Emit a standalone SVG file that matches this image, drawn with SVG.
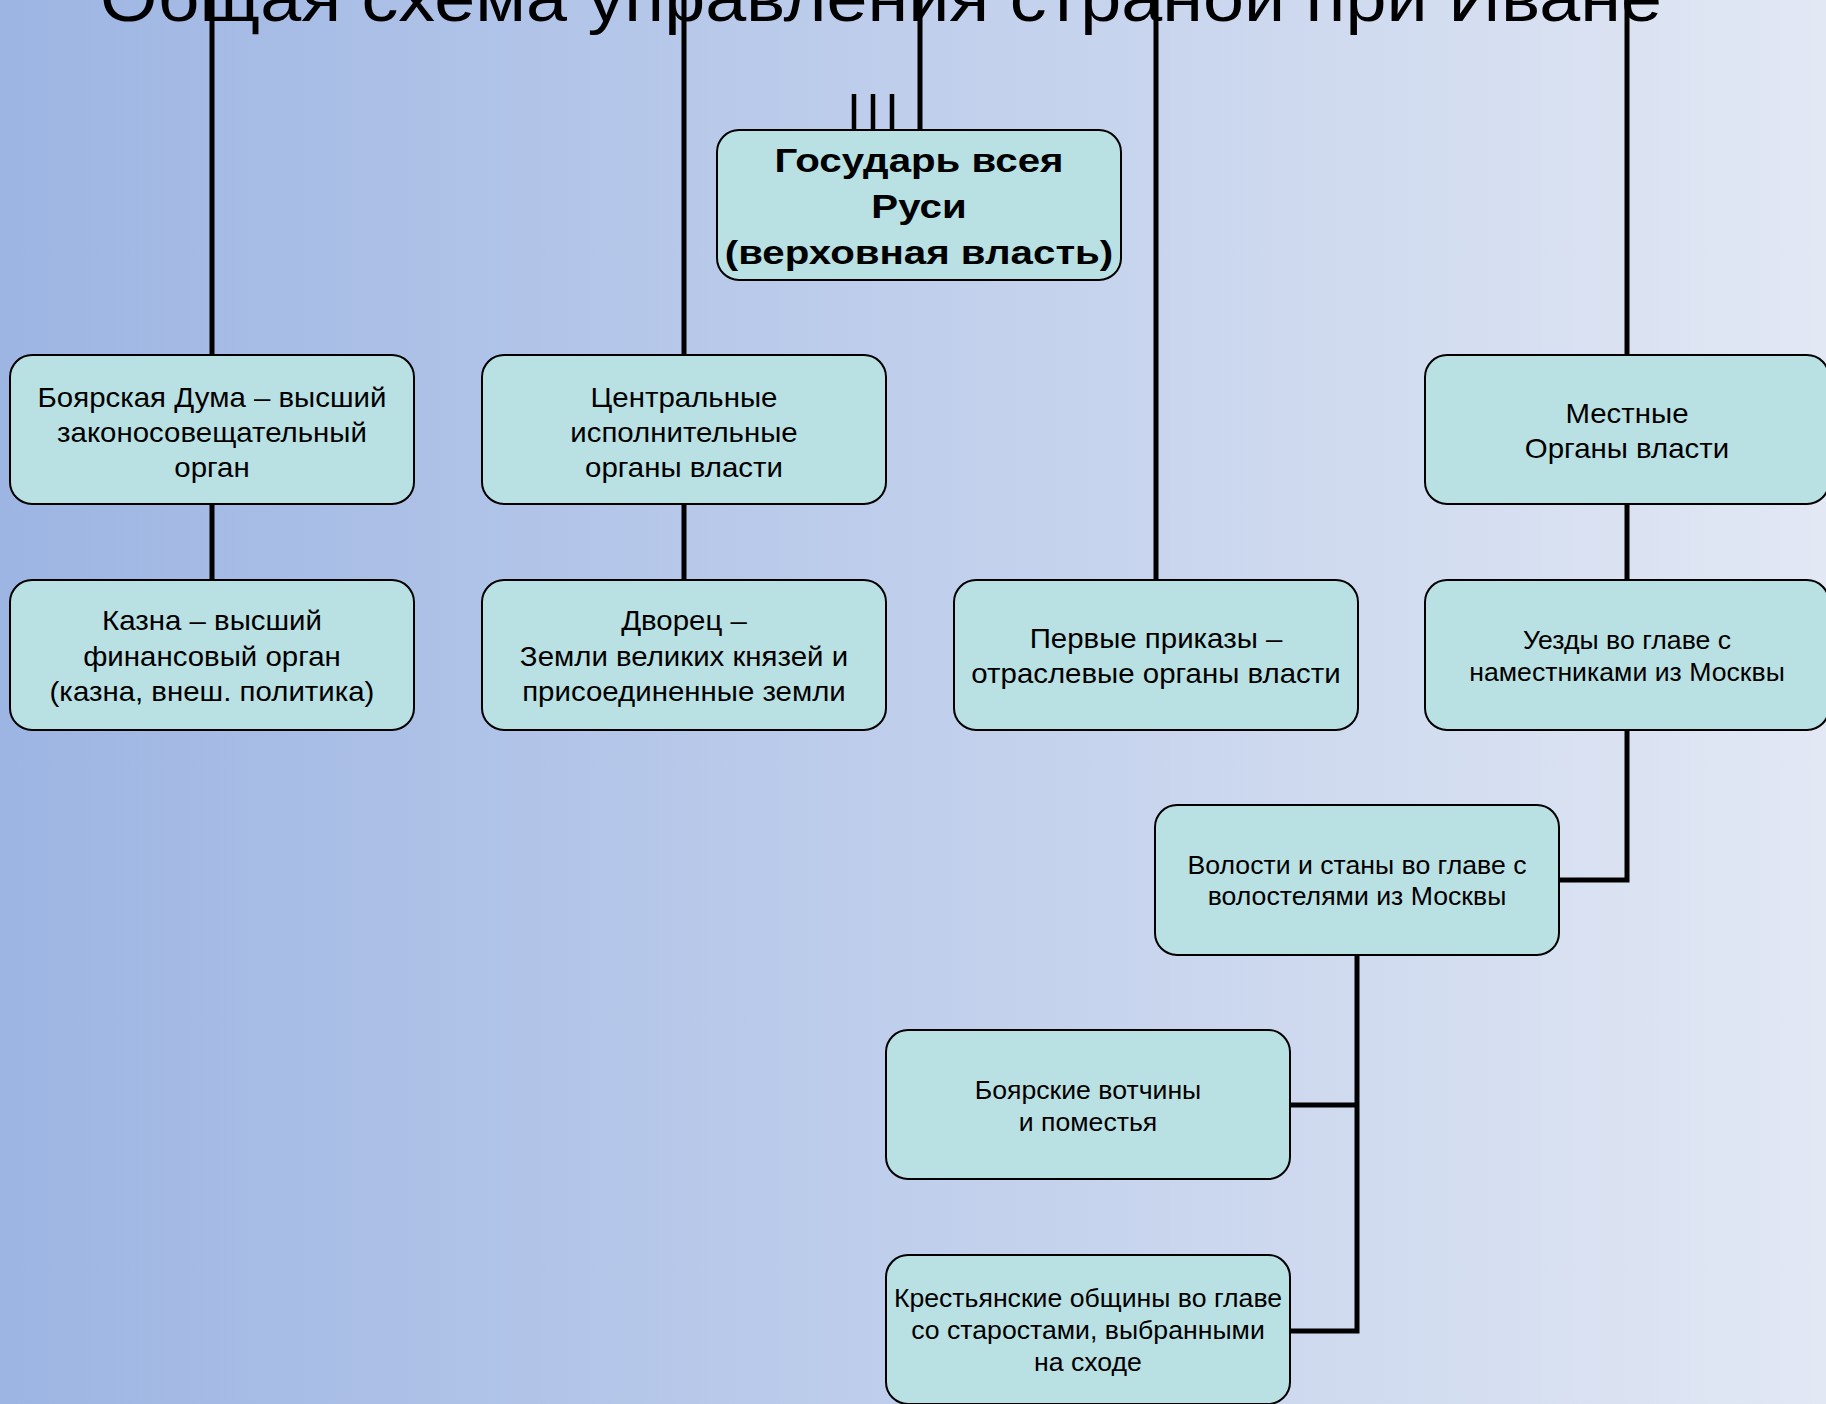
<svg xmlns="http://www.w3.org/2000/svg" width="1826" height="1404" viewBox="0 0 1826 1404">
<defs>
<linearGradient id="bg" x1="0" y1="0" x2="1" y2="0">
<stop offset="0" stop-color="#9DB5E3"/>
<stop offset="1" stop-color="#E2E8F4"/>
</linearGradient>
</defs>
<style>
.box{fill:#B9E0E3;stroke:#000;stroke-width:2}
.t{font-family:"Liberation Sans",Arial,sans-serif;font-size:27px;fill:#000;text-anchor:middle}
.s{font-size:25.5px}
.b{font-weight:bold;font-size:33px}
.ttl{font-family:"Liberation Sans",Arial,sans-serif;font-size:67px;fill:#000;text-anchor:middle}
.c{fill:none;stroke:#000;stroke-width:5}
.c2{fill:none;stroke:#000;stroke-width:4.5}
</style>
<rect x="0" y="0" width="1826" height="1404" fill="url(#bg)"/>
<text class="ttl" x="881" y="21" transform="matrix(1.1,0,0,1,-88.1,0)">Общая схема управления страной при Иване</text>
<g id="connectors">
<path class="c" d="M212,0V355 M684,0V355 M920,0V130 M1156,0V580 M1627,0V355"/>
<path class="c2" d="M854,94V130 M873,94V130 M892,94V130"/>
<path class="c" d="M212,504V580 M684,504V580 M1627,504V580"/>
<path class="c" d="M1627,730V880H1559"/>
<path class="c" d="M1357,955V1331H1290 M1357,1105H1290"/>
</g>
<g id="n-gosudar">
<rect class="box" x="717" y="130" width="404" height="150" rx="22"/>
<text class="t b" transform="matrix(1.22,0,0,1,-202.18,0)"><tspan x="919" y="172">Государь всея</tspan><tspan x="919" y="218">Руси</tspan><tspan x="919" y="264">(верховная власть)</tspan></text>
</g>
<g id="n-duma">
<rect class="box" x="10" y="355" width="404" height="149" rx="22"/>
<text class="t" transform="matrix(1.09,0,0,1,-19.08,0)"><tspan x="212" y="407">Боярская Дума – высший</tspan><tspan x="212" y="442">законосовещательный</tspan><tspan x="212" y="477">орган</tspan></text>
</g>
<g id="n-central">
<rect class="box" x="482" y="355" width="404" height="149" rx="22"/>
<text class="t" transform="matrix(1.09,0,0,1,-61.56,0)"><tspan x="684" y="407">Центральные</tspan><tspan x="684" y="442">исполнительные</tspan><tspan x="684" y="477">органы власти</tspan></text>
</g>
<g id="n-mestnye">
<rect class="box" x="1425" y="355" width="404" height="149" rx="22"/>
<text class="t" transform="matrix(1.09,0,0,1,-146.43,0)"><tspan x="1627" y="423">Местные</tspan><tspan x="1627" y="458">Органы власти</tspan></text>
</g>
<g id="n-kazna">
<rect class="box" x="10" y="580" width="404" height="150" rx="22"/>
<text class="t" transform="matrix(1.09,0,0,1,-19.08,0)"><tspan x="212" y="630">Казна – высший</tspan><tspan x="212" y="666">финансовый орган</tspan><tspan x="212" y="701">(казна, внеш. политика)</tspan></text>
</g>
<g id="n-dvorec">
<rect class="box" x="482" y="580" width="404" height="150" rx="22"/>
<text class="t" transform="matrix(1.09,0,0,1,-61.56,0)"><tspan x="684" y="630">Дворец –</tspan><tspan x="684" y="666">Земли великих князей и</tspan><tspan x="684" y="701">присоединенные земли</tspan></text>
</g>
<g id="n-prikazy">
<rect class="box" x="954" y="580" width="404" height="150" rx="22"/>
<text class="t" transform="matrix(1.09,0,0,1,-104.04,0)"><tspan x="1156" y="648">Первые приказы –</tspan><tspan x="1156" y="683">отраслевые органы власти</tspan></text>
</g>
<g id="n-uezdy">
<rect class="box" x="1425" y="580" width="404" height="150" rx="22"/>
<text class="t s" transform="matrix(1.045,0,0,1,-73.215,0)"><tspan x="1627" y="649">Уезды во главе с</tspan><tspan x="1627" y="681">наместниками из Москвы</tspan></text>
</g>
<g id="n-volosti">
<rect class="box" x="1155" y="805" width="404" height="150" rx="22"/>
<text class="t s" transform="matrix(1.045,0,0,1,-61.065,0)"><tspan x="1357" y="874">Волости и станы во главе с</tspan><tspan x="1357" y="905">волостелями из Москвы</tspan></text>
</g>
<g id="n-votchiny">
<rect class="box" x="886" y="1030" width="404" height="149" rx="22"/>
<text class="t s" transform="matrix(1.045,0,0,1,-48.96,0)"><tspan x="1088" y="1099">Боярские вотчины</tspan><tspan x="1088" y="1131">и поместья</tspan></text>
</g>
<g id="n-obshchiny">
<rect class="box" x="886" y="1255" width="404" height="149" rx="22"/>
<text class="t s" transform="matrix(1.045,0,0,1,-48.96,0)"><tspan x="1088" y="1307">Крестьянские общины во главе</tspan><tspan x="1088" y="1339">со старостами, выбранными</tspan><tspan x="1088" y="1371">на сходе</tspan></text>
</g>
</svg>
